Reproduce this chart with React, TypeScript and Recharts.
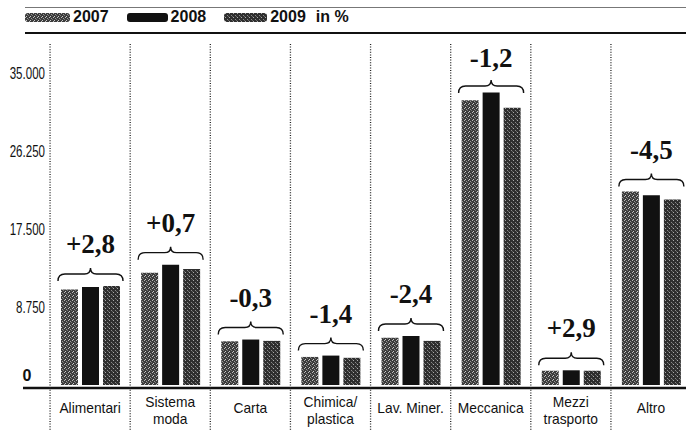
import { BarChart, Bar, XAxis, YAxis, Legend, LabelList } from "recharts";

const categories = [
  "Alimentari",
  "Sistema\nmoda",
  "Carta",
  "Chimica/\nplastica",
  "Lav. Miner.",
  "Meccanica",
  "Mezzi\ntrasporto",
  "Altro",
];
const values2007 = [10700, 12600, 4900, 3150, 5300, 31950, 1600, 21700];
const values2008 = [11000, 13500, 5100, 3300, 5500, 32800, 1650, 21300];
const values2009 = [11100, 13000, 4950, 3050, 4950, 31100, 1600, 20800];
const changes = ["+2,8", "+0,7", "-0,3", "-1,4", "-2,4", "-1,2", "+2,9", "-4,5"];
const yTicks = [0, 8750, 17500, 26250, 35000];
const yTickLabels = ["0", "8.750", "17.500", "26.250", "35.000"];
const seriesNames = ["2007", "2008", "2009"];

const data = categories.map((name, i) => ({
  name,
  y2007: values2007[i],
  y2008: values2008[i],
  y2009: values2009[i],
}));

const BAR_SIZE = 17;
const BAR_GAP = 4;
const HALF_BAND = 40;
const SANS = "'Liberation Sans', Arial, sans-serif";

function Brace(props: any) {
  const { x, y, width, height, index } = props;
  const v = values2008[index];
  const max = Math.max(values2007[index], v, values2009[index]);
  const base = y + height;
  const top = base - (max * height) / v;
  const left = x - width - BAR_GAP - 3;
  const right = x + 2 * width + BAR_GAP + 3;
  const mid = (left + right) / 2;
  const textY = Math.max(top - 42, 58);
  const by = Math.max(top - 12, textY + 28);
  const d = `M${left},${by + 7} Q${left},${by} ${left + 7},${by} L${mid - 6},${by} Q${mid},${by} ${mid},${by - 6} Q${mid},${by} ${mid + 6},${by} L${right - 7},${by} Q${right},${by} ${right},${by + 7}`;
  return (
    <g>
      <path d={d} fill="none" stroke="#111" strokeWidth={1.4} />
      <text
        x={mid}
        y={textY}
        textAnchor="middle"
        dominantBaseline="central"
        fontFamily="'Liberation Serif', 'DejaVu Serif', serif"
        fontWeight="bold"
        fontSize={27}
        fill="#111"
      >
        {changes[index]}
      </text>
    </g>
  );
}

function CategoryTick(props: any) {
  const { x, y, payload, index } = props;
  const lines = String(payload.value).split("\n");
  return (
    <g>
      {index === 0 && (
        <line x1={23} x2={692} y1={y + 3} y2={y + 3} stroke="#111" strokeWidth={2.5} />
      )}
      <line
        x1={x - HALF_BAND}
        x2={x - HALF_BAND}
        y1={44}
        y2={430}
        stroke="#222"
        strokeWidth={1.3}
        strokeDasharray="1 1.6"
      />
      {lines.map((line, i) => (
        <text
          key={i}
          transform={`translate(${x},${lines.length === 1 ? y + 23 : y + 17 + i * 17}) scale(0.92,1)`}
          textAnchor="middle"
          dominantBaseline="central"
          fontFamily={SANS}
          fontSize={15}
          fill="#111"
        >
          {line}
        </text>
      ))}
    </g>
  );
}

function ValueTick(props: any) {
  const { y, payload } = props;
  const i = yTicks.indexOf(payload.value);
  if (payload.value === 0) {
    return (
      <text
        x={27}
        y={y - 10}
        textAnchor="middle"
        dominantBaseline="central"
        fontFamily={SANS}
        fontWeight="bold"
        fontSize={16}
        fill="#111"
      >
        {yTickLabels[i]}
      </text>
    );
  }
  return (
    <text
      transform={`translate(45,${y}) scale(0.68,1)`}
      textAnchor="end"
      dominantBaseline="central"
      fontFamily={SANS}
      fontSize={17}
      fill="#111"
    >
      {yTickLabels[i]}
    </text>
  );
}

const swatchFills = ["url(#stip07)", "#111", "url(#stip09)"];
const swatchWidths = [45, 41, 43];

function LegendRow() {
  return (
    <div
      style={{
        display: "flex",
        alignItems: "center",
        fontFamily: SANS,
        fontWeight: "bold",
        fontSize: 16,
        color: "#111",
        lineHeight: "18px",
      }}
    >
      {seriesNames.map((n, i) => (
        <div key={n} style={{ display: "flex", alignItems: "center", marginRight: i === 2 ? 10 : 18 }}>
          <svg width={swatchWidths[i]} height={9} style={{ marginRight: 3 }}>
            <rect width={swatchWidths[i]} height={9} rx={3} fill={swatchFills[i]} />
          </svg>
          <span>{n}</span>
        </div>
      ))}
      <span>in %</span>
    </div>
  );
}

export default function App() {
  return (
    <div
      style={{
        position: "absolute",
        left: 0,
        top: 0,
        width: 686,
        height: 430,
        overflow: "hidden",
        background: "#fff",
      }}
    >
      <div style={{ position: "absolute", left: 25, top: 7, width: 661, height: 1, background: "#777" }} />
      <div style={{ position: "absolute", left: 25, top: 32, width: 661, height: 2, background: "#111" }} />
      <BarChart
        width={692}
        height={430}
        data={data}
        margin={{ top: 73, right: 1, bottom: 15, left: 0 }}
        barSize={BAR_SIZE}
        barGap={BAR_GAP}
      >
        <defs>
          <pattern id="stip07" width="4" height="4" patternUnits="userSpaceOnUse">
            <rect width="4" height="4" fill="#3c3c3c" />
            <rect x="0" y="0" width="1" height="1" fill="#bbb" />
            <rect x="2" y="1" width="1" height="1" fill="#999" />
            <rect x="1" y="3" width="1" height="1" fill="#ccc" />
            <rect x="3" y="2" width="1" height="1" fill="#777" />
          </pattern>
          <pattern id="stip09" width="4" height="4" patternUnits="userSpaceOnUse">
            <rect width="4" height="4" fill="#2e2e2e" />
            <rect x="1" y="0" width="1" height="1" fill="#aaa" />
            <rect x="3" y="2" width="1" height="1" fill="#888" />
            <rect x="0" y="3" width="1" height="1" fill="#666" />
          </pattern>
        </defs>
        <XAxis
          dataKey="name"
          height={30}
          axisLine={false}
          tickLine={false}
          tickSize={0}
          tickMargin={0}
          interval={0}
          tick={<CategoryTick />}
        />
        <YAxis
          domain={[0, 35000]}
          ticks={yTicks}
          axisLine={false}
          tickLine={false}
          width={50}
          tick={<ValueTick />}
        />
        <Legend
          layout="horizontal"
          verticalAlign="middle"
          align="center"
          content={() => <LegendRow />}
          wrapperStyle={{ top: 8, left: 25, width: 420, height: 18 }}
        />
        <Bar dataKey="y2007" name={seriesNames[0]} fill="url(#stip07)" isAnimationActive={false} />
        <Bar dataKey="y2008" name={seriesNames[1]} fill="#111" isAnimationActive={false}>
          <LabelList dataKey="y2008" content={<Brace />} />
        </Bar>
        <Bar dataKey="y2009" name={seriesNames[2]} fill="url(#stip09)" isAnimationActive={false} />
      </BarChart>
    </div>
  );
}
